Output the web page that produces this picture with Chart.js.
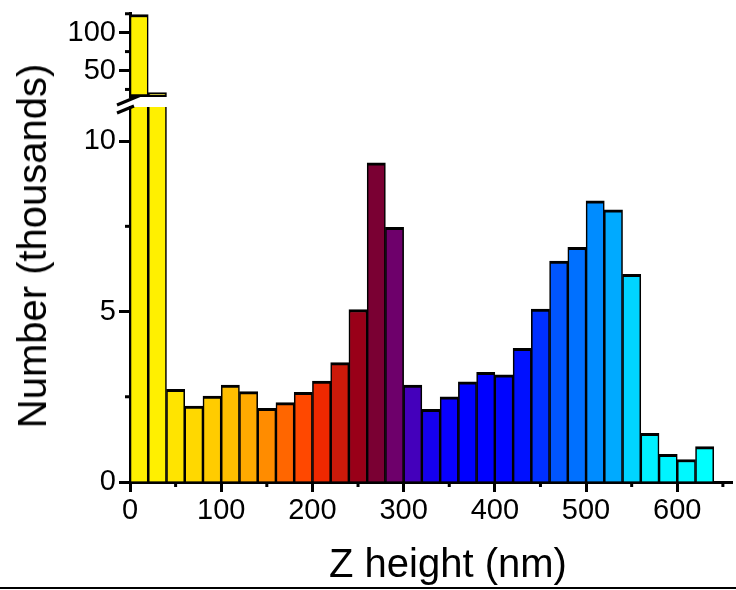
<!DOCTYPE html>
<html><head><meta charset="utf-8">
<script src="https://cdn.jsdelivr.net/npm/chart.js@4"></script>
<style>
html,body{margin:0;padding:0;background:#fff;}
#wrap{position:relative;width:736px;height:590px;overflow:hidden;background:#fff;}
canvas{position:absolute;left:0;top:0;}
#ytitle{position:absolute;left:32px;top:246px;transform:translate(-50%,-50%) rotate(-90deg);font:40px "Liberation Sans",Arial,sans-serif;white-space:nowrap;color:#000;line-height:1;}
#xtitle{position:absolute;left:448px;top:563px;transform:translate(-50%,-50%);font:40px "Liberation Sans",Arial,sans-serif;white-space:nowrap;color:#000;line-height:1;}
#bottomLine{position:absolute;left:0;top:587px;width:736px;height:2px;background:#000;}
</style></head>
<body>
<div id="wrap">
  <canvas id="cLow" width="736" height="590"></canvas>
  <canvas id="cUp" width="736" height="100"></canvas>
  <div id="ytitle">Number (thousands)</div>
  <div id="xtitle">Z height (nm)</div>
  <div id="bottomLine"></div>
</div>
<script>
// ---- data (bin start in nm, counts in thousands) ----
const binStarts = [0,20,40,60,80,100,120,140,160,180,200,220,240,260,280,300,320,340,360,380,400,420,440,460,480,500,520,540,560,580,600,620];
const binWidth = 20;
const counts = [124,21,2.72,2.23,2.52,2.84,2.65,2.16,2.33,2.63,2.96,3.50,5.06,9.36,7.47,2.84,2.13,2.50,2.94,3.22,3.14,3.92,5.07,6.48,6.88,8.25,7.98,6.09,1.43,0.81,0.66,1.04];
const barColors = ['#FFF000','#FFF000','#FFE400','#FFD800','#FFCC00','#FFBE00','#FFAA00','#FF8C00','#FF6600','#FF4800',
  '#EE2800','#CC1A0A','#990018','#7A0033','#6E006B','#4400BB','#1500EE','#0800FF','#0000FF','#0000FF',
  '#0004FF','#0010FF','#0030FF','#0055FF','#0070FF','#008CFF','#00AAFF','#00D4FF','#00F0FF','#00F4FF','#00F8FF','#00FFFF'];
const xTicks = [0,100,200,300,400,500,600];
const xMinor = [50,150,250,350,450,550,650];
const yLowTicks = [0,5,10];
const yLowMinor = [2.5,7.5];
const yUpTicks = [50,100];
const yUpMinor = [25,75,125];
const xRange = [0,660];
const yLowRange = [0,11];
const yUpRange = [15,126];

const FONT = '"Liberation Sans", Arial, sans-serif';
const points = binStarts.map((s,i)=>({x:s+binWidth/2, y:counts[i]}));

function minorPlugin(axis, values, len){
  return {id:'minor_'+axis, afterDraw(chart){
    const s = chart.scales[axis], ca = chart.chartArea, ctx = chart.ctx;
    ctx.save(); ctx.strokeStyle='#000'; ctx.lineWidth=3;
    values.forEach(v=>{
      const p = s.getPixelForValue(v);
      ctx.beginPath();
      if(axis==='x'){ ctx.moveTo(p, ca.bottom); ctx.lineTo(p, ca.bottom+len); }
      else { ctx.moveTo(ca.left, p); ctx.lineTo(ca.left-len, p); }
      ctx.stroke();
    });
    ctx.restore();
  }};
}
const breakPlugin = {id:'breakMarks', afterDraw(chart){
  const ctx = chart.ctx; ctx.save(); ctx.strokeStyle='#000'; ctx.lineWidth=3;
  ctx.beginPath(); ctx.moveTo(117,105); ctx.lineTo(141,95); ctx.stroke();
  ctx.beginPath(); ctx.moveTo(117,113); ctx.lineTo(134,106); ctx.stroke();
  ctx.restore();
}};

function keepTicks(list){ return function(scale){ scale.ticks = list.map(v=>({value:v})); }; }
function fixY(s){ s.width = 130; s.paddingTop = 0; s.paddingBottom = 0; }
const inUpper = c => c.raw && c.raw.y > yUpRange[0];

const tickFont = {family:FONT, size:29};

// ---- lower chart ----
new Chart(document.getElementById('cLow'), {
  type:'bar',
  data:{datasets:[{data:points, backgroundColor:barColors, borderColor:'#000',
    borderWidth:{top:3,left:1.6,right:1.6,bottom:0}, borderSkipped:'start',
    barPercentage:1, categoryPercentage:1}]},
  options:{
    responsive:false, animation:false, devicePixelRatio:1,
    layout:{padding:{top:107,right:4,left:0,bottom:0}},
    plugins:{legend:{display:false}, tooltip:{enabled:false}},
    scales:{
      x:{type:'linear', min:xRange[0], max:xRange[1], offset:false,
        afterBuildTicks:keepTicks(xTicks),
        afterFit(s){ s.height = 108; },
        grid:{display:true, drawOnChartArea:false, drawTicks:true, tickLength:10, tickWidth:3, tickColor:'#000', offset:false},
        border:{display:true, color:'#000', width:3},
        ticks:{font:tickFont, color:'#000', padding:2, maxRotation:0, autoSkip:false}
      },
      y:{type:'linear', min:yLowRange[0], max:yLowRange[1],
        afterBuildTicks:keepTicks(yLowTicks),
        afterFit:fixY,
        grid:{display:true, drawOnChartArea:false, drawTicks:true, tickLength:11, tickWidth:3, tickColor:'#000'},
        border:{display:true, color:'#000', width:3},
        ticks:{font:tickFont, color:'#000', padding:3}
      }
    }
  },
  plugins:[minorPlugin('x', xMinor, 5), minorPlugin('y', yLowMinor, 5), breakPlugin]
});

// ---- upper chart ----
new Chart(document.getElementById('cUp'), {
  type:'bar',
  data:{datasets:[{data:points,
    backgroundColor:c => inUpper(c) ? barColors[c.dataIndex] : 'rgba(0,0,0,0)',
    borderColor:c => inUpper(c) ? '#000' : 'rgba(0,0,0,0)',
    borderWidth:{top:3,left:1.6,right:1.6,bottom:3}, borderSkipped:false, base:yUpRange[0],
    barPercentage:1, categoryPercentage:1, clip:0}]},
  options:{
    responsive:false, animation:false, devicePixelRatio:1,
    layout:{padding:{top:13,right:4,left:0,bottom:3}},
    plugins:{legend:{display:false}, tooltip:{enabled:false}},
    scales:{
      x:{type:'linear', min:xRange[0], max:xRange[1], offset:false, display:false, grid:{offset:false}},
      y:{type:'linear', min:yUpRange[0], max:yUpRange[1],
        afterBuildTicks:keepTicks(yUpTicks),
        afterFit:fixY,
        grid:{display:true, drawOnChartArea:false, drawTicks:true, tickLength:11, tickWidth:3, tickColor:'#000'},
        border:{display:true, color:'#000', width:3},
        ticks:{font:tickFont, color:'#000', padding:3}
      }
    }
  },
  plugins:[minorPlugin('y', yUpMinor, 5)]
});
</script>
</body></html>
